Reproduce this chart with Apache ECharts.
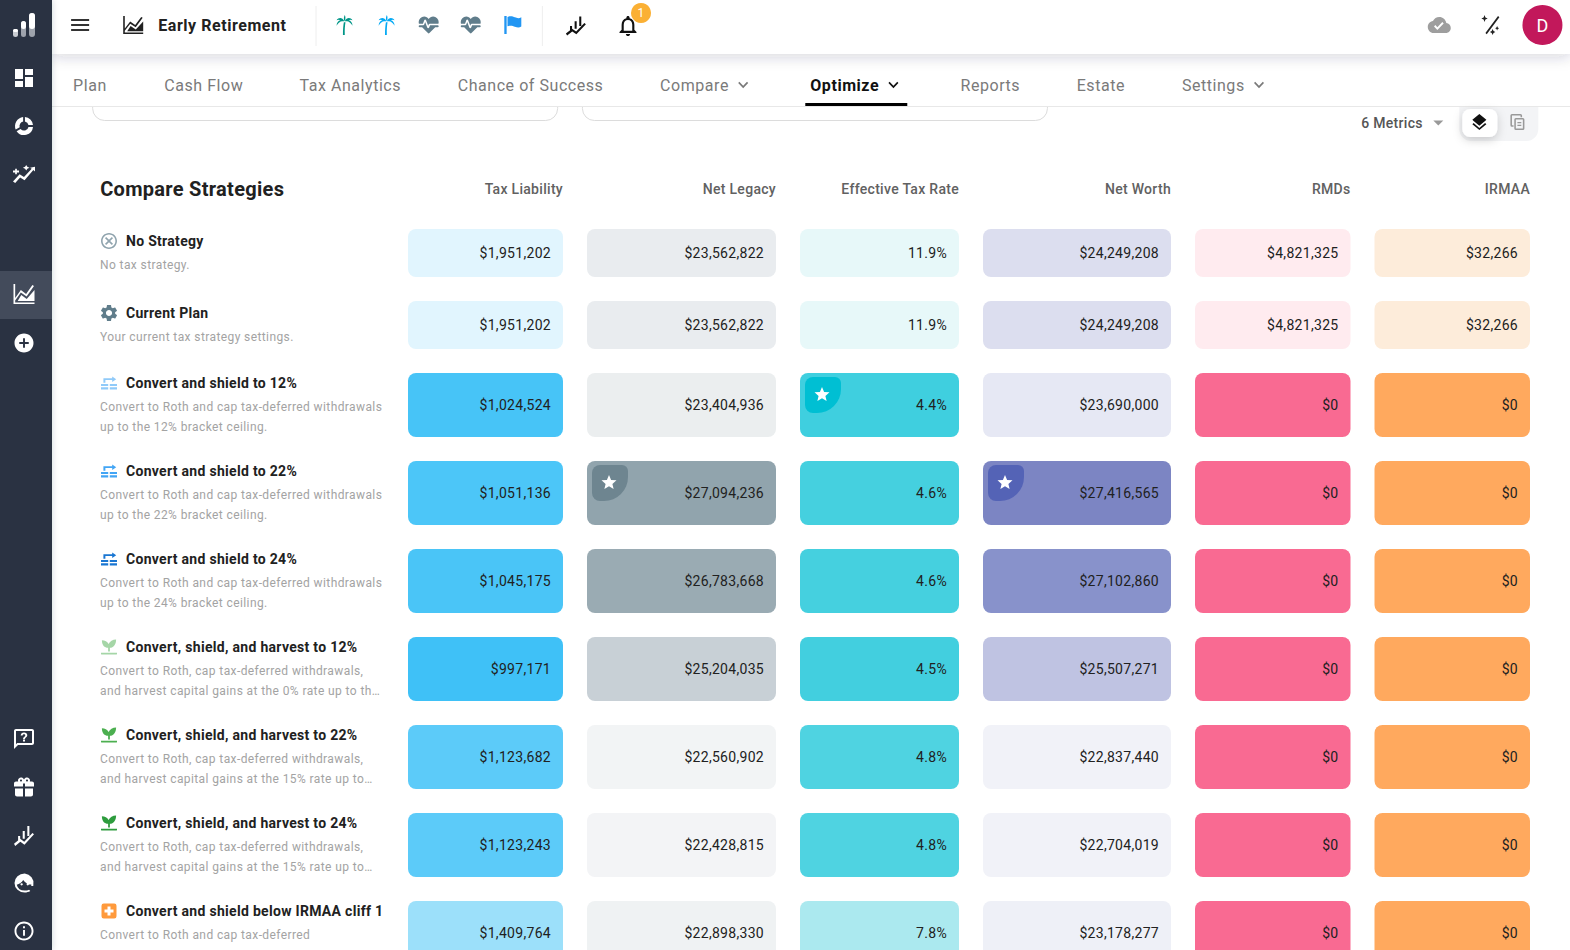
<!DOCTYPE html>
<html><head><meta charset="utf-8">
<script src="https://cdn.jsdelivr.net/npm/echarts@6/dist/echarts.min.js"></script>
<style>
html,body{margin:0;padding:0;background:#fff;overflow:hidden}
#c{width:1570px;height:950px}
svg text{letter-spacing:.3px}
svg text[style*="16px"]{letter-spacing:.55px}
svg text[style*="12px"]{letter-spacing:.4px}
</style></head><body><div id="c"></div>
<script>
const metrics=['Tax Liability','Net Legacy','Effective Tax Rate','Net Worth','RMDs','IRMAA'];
const strategies=['No Strategy','Current Plan','Convert and shield to 12%','Convert and shield to 22%','Convert and shield to 24%','Convert, shield, and harvest to 12%','Convert, shield, and harvest to 22%','Convert, shield, and harvest to 24%','Convert and shield below IRMAA cliff 1'];
const descriptions=[['No tax strategy.'],['Your current tax strategy settings.'],
['Convert to Roth and cap tax-deferred withdrawals','up to the 12% bracket ceiling.'],
['Convert to Roth and cap tax-deferred withdrawals','up to the 22% bracket ceiling.'],
['Convert to Roth and cap tax-deferred withdrawals','up to the 24% bracket ceiling.'],
['Convert to Roth, cap tax-deferred withdrawals,','and harvest capital gains at the 0% rate up to th…'],
['Convert to Roth, cap tax-deferred withdrawals,','and harvest capital gains at the 15% rate up to…'],
['Convert to Roth, cap tax-deferred withdrawals,','and harvest capital gains at the 15% rate up to…'],
['Convert to Roth and cap tax-deferred']];
const taxLiability=[1951202,1951202,1024524,1051136,1045175,997171,1123682,1123243,1409764];
const netLegacy=[23562822,23562822,23404936,27094236,26783668,25204035,22560902,22428815,22898330];
const effectiveTaxRate=[11.9,11.9,4.4,4.6,4.6,4.5,4.8,4.8,7.8];
const netWorth=[24249208,24249208,23690000,27416565,27102860,25507271,22837440,22704019,23178277];
const rmds=[4821325,4821325,0,0,0,0,0,0,0];
const irmaa=[32266,32266,0,0,0,0,0,0,0];
const metricValues=[taxLiability,netLegacy,effectiveTaxRate,netWorth,rmds,irmaa];
const starred={1:3,2:2,3:3};

// styles and layout (separate from the values)
const cellFills=[
['#e1f5fe','#e1f5fe','#47c4f7','#4cc6f8','#4ac5f7','#3fc1f7','#5ccbf9','#5ccbf9','#9ce0fa'],
['#e9ecef','#e9ecef','#ebeeef','#91a4ad','#9aabb3','#c8d0d6','#f2f4f5','#f3f4f6','#eff2f3'],
['#e7f8f9','#e7f8f9','#3fcfdf','#45d0df','#45d0df','#42cfdf','#4fd3e1','#4fd3e1','#abe9ef'],
['#dcdeef','#dcdeef','#e6e8f4','#7c85c3','#8892cb','#bfc3e2','#f1f2f8','#f1f2f8','#eef0f7'],
['#ffebef','#ffebef','#f96a92','#f96a92','#f96a92','#f96a92','#f96a92','#f96a92','#f96a92'],
['#fdecda','#fdecda','#ffa95e','#ffa95e','#ffa95e','#ffa95e','#ffa95e','#ffa95e','#ffa95e']];
const badgeFills={1:'#6e8590',2:'#00bfd3',3:'#5463b6'};
const colSizes=[179,213,183,212,179.5,179.5];
const rowSizes=[72,72,88,88,88,88,88,88,88];
const P={
menu:'M3 18h18v-2H3v2zm0-5h18v-2H3v2zm0-7v2h18V6H3z',
area:'M2 2h1.6v14L9 8l5 4 6-9 1.5 1-7 10.5L9 10.5 3.6 18.5V20.4H22V22H2zM22 8v11H6l3.4-6 5.2 4z',
dash:'M3 3h8v10H3zM13 3h8v6h-8zM3 15h8v6H3zM13 11h8v10h-8z',
donut:'M13 2.1a10 10 0 0 1 8.9 8.9h-5a5 5 0 0 0-3.9-3.9zM11 2.1v5A5 5 0 0 0 7.2 13.5l-4.4 2.4A10 10 0 0 1 11 2.1zM3.8 17.7l4.4-2.4a5 5 0 0 0 8.7-2.3h5A10 10 0 0 1 3.8 17.7z',
help:'M20 2H4c-1.1 0-2 .9-2 2v18l4-4h14c1.1 0 2-.9 2-2V4c0-1.1-.9-2-2-2zm0 14H5.17L4 17.17V4h16v12zM11 12.5h2v2h-2zM12 5.5c-1.9 0-3.2 1.2-3.3 3h1.9c.1-.8.6-1.2 1.4-1.2s1.3.4 1.3 1.1c0 1.3-2.3 1.3-2.3 3.6h2c0-1.6 2.3-1.8 2.3-3.7 0-1.7-1.3-2.8-3.3-2.8z',
gift:'M20 6h-2.18c.11-.31.18-.65.18-1 0-1.66-1.34-3-3-3-1.05 0-1.96.54-2.5 1.35l-.5.67-.5-.68C10.96 2.54 10.05 2 9 2 7.34 2 6 3.34 6 5c0 .35.07.69.18 1H4C2.89 6 2.01 6.89 2.01 8L2 11h9V8h2v3h9V8c0-1.11-.89-2-2-2zM9 6c-.55 0-1-.45-1-1s.45-1 1-1 1 .45 1 1-.45 1-1 1zm6 0c-.55 0-1-.45-1-1s.45-1 1-1 1 .45 1 1-.45 1-1 1zM3 13v6c0 1.1.9 2 2 2h6v-8zM13 13v8h6c1.1 0 2-.9 2-2v-6z',
info:'M11 7h2v2h-2zm0 4h2v6h-2zm1-9C6.48 2 2 6.48 2 12s4.48 10 10 10 10-4.48 10-10S17.52 2 12 2zm0 18c-4.41 0-8-3.59-8-8s3.59-8 8-8 8 3.59 8 8-3.59 8-8 8z',
add:'M12 2C6.48 2 2 6.48 2 12s4.48 10 10 10 10-4.48 10-10S17.52 2 12 2zm5 11h-4v4h-2v-4H7v-2h4V7h2v4h4v2z',
face:'M12 2a10 10 0 1 0 0 20c2 0 4-.6 5.5-1.6l-1.2-1.4c-1.2.7-2.7 1-4.3 1a8 8 0 0 1-7.8-6.2c2.6-.6 5-2.4 6.3-5 1.7 2.8 4.6 4.6 8 4.8 0 .5 0 1-.1 1.5h2c.1-.5.1-1 .1-1.5A10 10 0 0 0 12 2zM9 12.2a1.2 1.2 0 1 0 0 2.4 1.2 1.2 0 0 0 0-2.4zm6 0a1.2 1.2 0 1 0 0 2.4 1.2 1.2 0 0 0 0-2.4z',
palm:'M11 22c0-6 .4-9.500 1-13h1.800c-.6 3.500-1 7-.8 13zM12.500 8C10.500 4 6.500 3.500 4 7c2-1 3-1 4.200 0-2.200.3-4 2.500-4.200 5.500 2-3 4-4.300 6-4.500zM13 8c2-4 6-4.500 8.500-1-2-1-3-1-4.200 0 2.200.3 4 2.500 4.200 5.500-2-3-4-4.300-6-4.500zM12.400 7.500c-.8-2.500-.2-4.500.6-6 .9 1.500 1 4 .2 6z',
heart:'M7.5,4A5.5,5.5 0 0,0 2,9.5C2,10 2.09,10.5 2.22,11H6.3L7.57,7.63C7.87,6.83 9.05,6.75 9.43,7.63L11.5,13L12.09,11.58C12.22,11.25 12.57,11 13,11H21.78C21.91,10.5 22,10 22,9.5A5.5,5.5 0 0,0 16.5,4C14.64,4 13,4.93 12,6.34C11,4.93 9.36,4 7.5,4M3,12.5A1,1 0 0,0 2,13.5A1,1 0 0,0 3,14.5H5.44L11,20C12,20.9 12,20.9 13,20L18.56,14.5H21A1,1 0 0,0 22,13.5A1,1 0 0,0 21,12.5H13.4L12.47,14.8C12.07,15.81 10.92,15.67 10.55,14.83L8.5,9.5L7.54,11.83C7.39,12.21 7.05,12.5 6.6,12.5H3Z',
flag:'M4 2h2.200v20H4zM7 3c3-1.500 5-.5 7 .5s4 1.500 6-.2v10.500c-2 1.700-4 1.200-6 .2s-4-2-7-.5z',
bell:'M12 22c1.100 0 2-.9 2-2h-4c0 1.100.9 2 2 2zm6-6v-5c0-3.070-1.630-5.640-4.500-6.320V4c0-.83-.67-1.500-1.500-1.500s-1.500.67-1.500 1.500v.68C7.640 5.360 6 7.920 6 11v5l-2 2v1h16v-1l-2-2zm-2 1H8v-6c0-2.480 1.510-4.500 4-4.500s4 2.020 4 4.500v6z',
cloud:'M19.35 10.04C18.67 6.59 15.64 4 12 4 9.11 4 6.6 5.64 5.35 8.04 2.34 8.36 0 10.91 0 14c0 3.31 2.69 6 6 6h13c2.76 0 5-2.24 5-5 0-2.64-2.05-4.78-4.65-4.96zM10 17l-3.5-3.5 1.41-1.41L10 14.17 15.18 9l1.41 1.41L10 17z',
gear:'M19.14 12.94c.04-.3.06-.61.06-.94 0-.32-.02-.64-.07-.94l2.03-1.58c.18-.14.23-.41.12-.61l-1.92-3.32c-.12-.22-.37-.29-.59-.22l-2.39.96c-.5-.38-1.03-.7-1.62-.94l-.36-2.54c-.04-.24-.24-.41-.48-.41h-3.84c-.24 0-.43.17-.47.41l-.36 2.54c-.59.24-1.13.57-1.62.94l-2.39-.96c-.22-.08-.47 0-.59.22L2.74 8.87c-.12.21-.08.47.12.61l2.03 1.58c-.05.3-.09.63-.09.94s.02.64.07.94l-2.03 1.58c-.18.14-.23.41-.12.61l1.92 3.32c.12.22.37.29.59.22l2.39-.96c.5.38 1.03.7 1.62.94l.36 2.54c.05.24.24.41.48.41h3.84c.24 0 .44-.17.47-.41l.36-2.54c.59-.24 1.13-.56 1.62-.94l2.39.96c.22.08.47 0 .59-.22l1.92-3.32c.12-.22.07-.47-.12-.61l-2.01-1.58zM12 15.6c-1.98 0-3.6-1.62-3.6-3.6s1.62-3.6 3.6-3.6 3.6 1.62 3.6 3.6-1.62 3.6-3.6 3.6z',
cancel:'M12 2C6.47 2 2 6.47 2 12s4.47 10 10 10 10-4.47 10-10S17.53 2 12 2zm0 18c-4.41 0-8-3.59-8-8s3.59-8 8-8 8 3.59 8 8-3.59 8-8 8zm3.59-13L12 10.59 8.41 7 7 8.41 10.59 12 7 15.59 8.41 17 12 13.41 15.59 17 17 15.59 13.41 12 17 8.41z',
chev:'M7.41 8.59L12 13.17l4.59-4.58L18 10l-6 6-6-6z',
caret:'M7 10l5 5 5-5z',
layers:'M11.99 18.54l-7.37-5.73L3 14.07l9 7 9-7-1.63-1.27-7.38 5.74zM12 16l7.36-5.73L21 9l-9-7-9 7 1.63 1.27L12 16z',
star:'M12 17.27L18.18 21l-1.64-6.87L22 9.24l-7.19-.61L12 2 9.19 8.63 2 9.24l5.46 4.89L5.82 21z',
blocks:'M2 13h9v3.500H2zM13 13h9v3.500h-9zM2 18.500h9V22H2zM13 18.500h9V22h-9zM5 11V4h11V1l5 4.500L16 10V6.500H7.500V11z',
sprout:'M3 20h18v1a1 1 0 0 1-1 1H4a1 1 0 0 1-1-1zM11 18.500V14C7 14 4 11 4 5c3.500 0 6 1.500 7.500 4.500C13 6 16 4 20 4c0 6-3 10-7 10v4.500z',
orange:'M5 2h14a3 3 0 0 1 3 3v14a3 3 0 0 1-3 3H5a3 3 0 0 1-3-3V5a3 3 0 0 1 3-3zM10 6v4H6v4h4v4h4v-4h4v-4h-4V6z',
sparkLine:'M2 20l6-8 4 3 7-9-1.500-1 4.500-1v5l-1.500-1.500L12.500 18.500 8.500 15.500 4 21.500z M4 6v2H2v2h2v2h1.500v-2h2V8h-2V6zM14 2l1 2 2 1-2 1-1 2-1-2-2-1 2-1z',
barsLine:'M6 13h2v6H6zM10.500 8h2v8h-2zM15 3h2v10h-2zM2 21l6-5 4 3 8-9 1.500 1.300-9.300 10.700-4-3-5 4.200z',
wand:'M6 21L20 4l1.500 1.200-14 17zM5 3l1 2.500L8.500 6.500 6 7.500 5 10 4 7.500 1.500 6.500 4 5.500zM14 17l1 2 2 1-2 1-1 2-1-2-2-1 2-1zM19 14l.7 1.500 1.500.7-1.500.7L19 18.500l-.7-1.600-1.500-.7 1.500-.7z',
copy:'M5 2h11a2 2 0 0 1 2 2v2h-2V4H5v12h2v2H5a2 2 0 0 1-2-2V4a2 2 0 0 1 2-2zM10 7h9a2 2 0 0 1 2 2v11a2 2 0 0 1-2 2h-9a2 2 0 0 1-2-2V9a2 2 0 0 1 2-2zm0 2v11h9V9zM12 12h5v1.500h-5zM12 15.500h5V17h-5z'
};
const rowIcons=[['cancel','#90a4ae',16,16],['gear','#607d8b',16,16],['blocks','#90caf9',16,13],['blocks','#42a5f5',16,13],['blocks','#1976d2',16,13],['sprout','#a5d6a7',16,15],['sprout','#4caf50',16,15],['sprout','#2e9c3e',16,15],['orange','#ff9a3c',15,15]];

function icon(d,cx,cy,w,fill,h){h=h||w;return{type:'path',shape:{pathData:P[d],x:cx-w/2,y:cy-h/2,width:w,height:h,layout:'cover'},style:{fill:fill},silent:true};}
function txt(t,x,y,font,fill,align){return{type:'text',style:{text:t,x:x,y:y,font:font,fill:fill,align:align||'left',verticalAlign:'middle'},silent:true};}
function rect(x,y,w,h,fill,r,extra){return{type:'rect',shape:{x:x,y:y,width:w,height:h,r:r||0},style:Object.assign({fill:fill},extra||{}),silent:true};}
const F='Roboto, sans-serif';
const tabs=[['Plan',73],['Cash Flow',164],['Tax Analytics',299],['Chance of Success',457],['Compare',659],['Reports',959],['Estate',1075],['Settings',1180]];

const chrome=[
 rect(92.5,60,465,60.500,'#fff',12,{stroke:'#dcdcdc',lineWidth:1}),
 rect(581.500,60,465,60.500,'#fff',12,{stroke:'#dcdcdc',lineWidth:1}),
 rect(52,54,1518,52,'#fff'),
 rect(52,106,1518,1,'#e8e8e8'),
 rect(52,0,1518,54,'#fff',0,{shadowBlur:14,shadowColor:'rgba(40,50,70,.18)',shadowOffsetY:3}),
 rect(0,0,52,950,'#293242',0,{shadowBlur:6,shadowColor:'rgba(40,50,70,.2)'}),
 rect(0,271,52,48,'#434b5b'),
 // logo
 rect(13,29,5,8,'#c9ccd2',2.5), rect(13,29,5,3,'#fff',1.5),
 rect(21,21,5,16,'#9ea3ac',2.5), rect(21,21,5,8,'#fff',2.5),
 rect(29,13,6,24,'#9ea3ac',3), rect(29,13,6,16,'#fff',3),
 icon('dash',24,78,18,'#fff'), icon('donut',24,126,18,'#fff'), icon('sparkLine',24,174,22,'#fff',18),
 icon('area',24,294,21,'#fff',20), icon('add',24,343,19,'#fff'),
 icon('help',24,739,20,'#fff'), icon('gift',24,787,20,'#fff',19), icon('barsLine',24,836,20,'#fff'), icon('face',24,883,19,'#fff'), icon('info',24,931,19,'#fff'),
 // top bar
 icon('menu',80,25,18,'#333',12), icon('area',133,25,20,'#212121',18),
 txt('Early Retirement',158,25,'700 16px '+F,'#212121'),
 rect(315,6,1,40,'#eeeeee'), rect(541,6,1,40,'#eeeeee'),
 icon('palm',344,25,16,'#009688',20), icon('palm',386,25,16,'#03a9f4',20),
 icon('heart',428,25,20,'#607d8b',17), icon('heart',470,25,20,'#607d8b',17), icon('flag',512,25,17,'#2196f3',18),
 icon('barsLine',575,26,20,'#111',19), icon('bell',627,26,17,'#111',20),
 {type:'circle',shape:{cx:640,cy:13,r:10},style:{fill:'#fbb034'},silent:true},
 txt('1',640,13,'12px '+F,'#fff','center'),
 icon('cloud',1437,25,23,'#9e9e9e',16), icon('wand',1488,25,18,'#222',20),
 {type:'circle',shape:{cx:1540,cy:25,r:20},style:{fill:'#c2185b'},silent:true},
 txt('D',1540,25,'18px '+F,'#fff','center'),
 // tabs
 ...tabs.map(t=>txt(t[0],t[1],85,'16px '+F,'#7a7a7a')),
 icon('chev',742,85,10,'#7a7a7a',6.5), icon('chev',1257,85,10,'#7a7a7a',6.5),
 txt('Optimize',809,85,'700 16px '+F,'#111'), icon('chev',892,85,10,'#111',6.5),
 rect(804,103,102,3,'#000'),
 // toolbar
 txt('6 Metrics',1359,123,'500 14px '+F,'#555'), icon('caret',1436,123,10,'#999',5),
 rect(1457,107,79,34,'#f3f4f6',[0,0,12,12]),
 rect(1460,109,35,28,'#fff',8,{shadowBlur:10,shadowColor:'rgba(0,0,0,.18)',shadowOffsetY:3}),
 icon('layers',1477,122,14,'#111',16), icon('copy',1515,122,14,'#999',16),
 txt('Compare Strategies',100,189,'700 20px '+F,'#212121')
];
// small horizontal correction of the page furniture
const X=x=>x*1.0016;
chrome.forEach(e=>{
 if(e.type==='text')e.style.x=X(e.style.x);
 else if(e.type==='circle')e.shape.cx=X(e.shape.cx);
 else if(e.shape.x>60)e.shape.x=X(e.shape.x);
});

const chart=echarts.init(document.getElementById('c'),null,{renderer:'svg',width:1570,height:950});

function cellRect(api,m,s){const l=api.layout([m,s]);return l.rect||l;}
const GAP=12;
const chromeSeries={type:'custom',name:'Page',coordinateSystem:'none',z:1,silent:true,animation:false,clip:false,data:[[0]],
 renderItem(){return{type:'group',children:chrome};}};
const cellSeries=metrics.map((m,ci)=>({
 type:'custom',name:m,coordinateSystem:'matrix',matrixIndex:0,z:3,silent:true,animation:false,clip:false,
 data:metricValues[ci].map((v,ri)=>[m,strategies[ri],v]),
 encode:{x:0,y:1},
 renderItem(params,api){
  const ri=params.dataIndex,v=metricValues[ci][ri],b=cellRect(api,m,strategies[ri]);
  const x=b.x+GAP,y=b.y+GAP,w=b.width-2*GAP,h=b.height-2*GAP;
  const label=ci===2?v.toFixed(1)+'%':'$'+v.toLocaleString('en-US');
  const kids=[rect(x,y,w,h,cellFills[ci][ri],8),txt(label,x+w-12,y+h/2,'14px '+F,'#212121','right')];
  if(starred[ci]===ri){
   kids.push(rect(x+5,y+4,36,36,badgeFills[ci],[8,6,24,8]));
   kids.push({type:'path',shape:{pathData:P.star,x:x+14.5,y:y+14,width:15,height:14,layout:'cover'},style:{fill:'#fff'},silent:true});
  }
  return{type:'group',children:kids};
 }
}));
const rowLabelSeries={
 type:'custom',name:'Strategies',coordinateSystem:'matrix',matrixIndex:0,z:3,silent:true,animation:false,clip:false,
 data:strategies.map(s=>[metrics[0],s]),
 encode:{x:0,y:1},
 renderItem(params,api){
  const ri=params.dataIndex,b=cellRect(api,metrics[0],strategies[ri]);
  const left=b.x-296,cy=b.y+b.height/2,d=descriptions[ri],two=b.height>72;
  const ty=cy+(two?-22:-12);
  const ic=rowIcons[ri];
  const kids=[icon(ic[0],left+9,ty,ic[2],ic[1],ic[3]),txt(strategies[ri],left+26,ty,'700 14px '+F,'#212121')];
  d.forEach((line,i)=>kids.push(txt(line,left,cy+(two?(i?22:2):12),'12px '+F,'#a3a3a3')));
  return{type:'group',children:kids};
 }
};
const headerSeries={
 type:'custom',name:'Headers',coordinateSystem:'matrix',matrixIndex:0,z:3,silent:true,animation:false,clip:false,
 data:metrics.map(m=>[m,strategies[0]]),
 encode:{x:0,y:1},
 renderItem(params,api){
  const b=cellRect(api,metrics[params.dataIndex],strategies[0]);
  return txt(metrics[params.dataIndex],b.x+b.width-GAP,b.y-28,'500 14px '+F,'#616161','right');
 }
};
chart.setOption({
 animation:false,
 backgroundColor:'#fff',
 tooltip:{show:false},
 matrix:{left:396,top:217,width:1146,height:760,
  x:{show:false,data:metrics.map((m,i)=>({value:m,size:colSizes[i]}))},
  y:{show:false,data:strategies.map((s,i)=>({value:s,size:rowSizes[i]}))},
  body:{itemStyle:{borderWidth:0,color:'transparent'}},
  backgroundStyle:{borderWidth:0,color:'transparent'},
  corner:{show:false}
 },
 series:[chromeSeries,...cellSeries,rowLabelSeries,headerSeries]
});
</script></body></html>
